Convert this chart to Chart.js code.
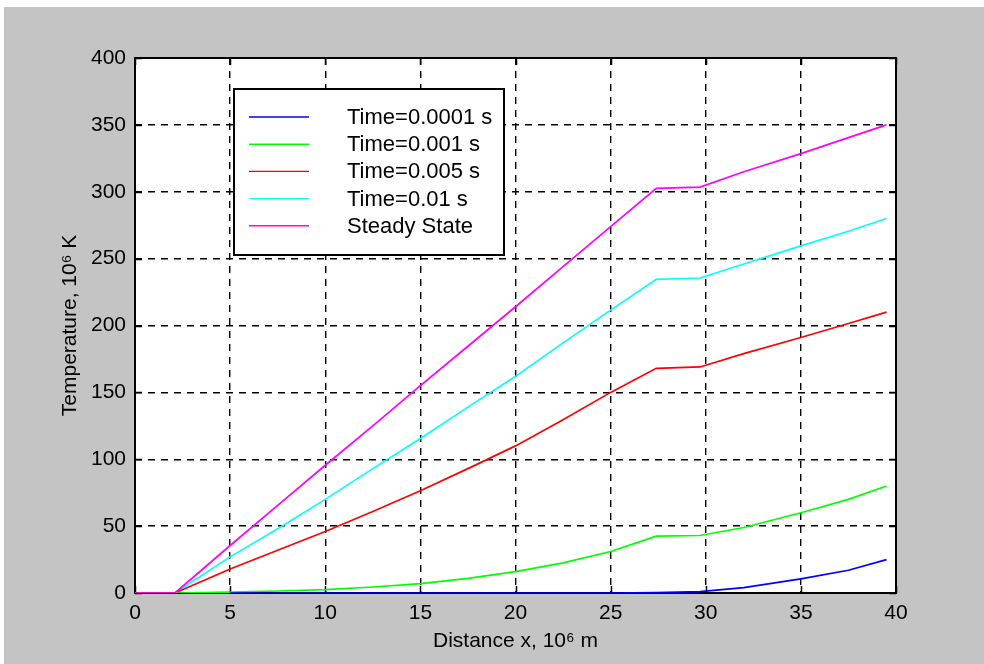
<!DOCTYPE html>
<html>
<head>
<meta charset="utf-8">
<script src="https://cdn.jsdelivr.net/npm/chart.js@4/dist/chart.umd.min.js"></script>
<style>
  html, body { margin: 0; padding: 0; background: #ffffff; }
  #bg { position: absolute; left: 4px; top: 7px; width: 980px; height: 657px; background: #c4c4c4; }
  #wrap { position: absolute; left: 0; top: 0; width: 984px; height: 664px; }
</style>
</head>
<body>
<div id="bg"></div>
<div id="wrap"><canvas id="c" width="984" height="664"></canvas></div>
<script>
// ---- data ----
const distance = [0, 2.1, 5, 7.5, 10, 12.5, 15, 17.5, 20, 22.5, 25, 27.4, 29.7, 32, 35, 37.5, 39.5];
const seriesLabels = ['Time=0.0001 s', 'Time=0.001 s', 'Time=0.005 s', 'Time=0.01 s', 'Steady State'];
const t0001 = [null, null, 0, 0, 0, 0, 0, 0, 0, 0, 0, 0.3, 1, 4, 10.5, 17, 25];
const t001  = [null, 0, 0.7, 1.5, 2.5, 4.5, 7, 11, 16, 22.5, 31, 42.5, 43, 49, 60, 70, 80];
const t005  = [0, 0, 18, 32, 46, 61, 76.5, 93, 110, 129.5, 150, 168, 169, 179, 191, 201.5, 210];
const t01   = [0, 0, 27, 48, 70, 93, 115.5, 139, 162, 187, 211.5, 234.5, 235.5, 246, 259.5, 270.5, 280];
const steady = [0, 0, 35.5, 65.5, 95.5, 125, 155, 184.5, 214, 244, 274, 302.5, 303.5, 315, 328.5, 340.5, 350];
const xTicks = [0, 5, 10, 15, 20, 25, 30, 35, 40];
const yTicks = [0, 50, 100, 150, 200, 250, 300, 350, 400];

const colors = ['#0000ff', '#00ff00', '#ff0000', '#00ffff', '#ff00ff'];
const drawOrder = [1, 2, 3, 4, 0];
const allSeries = [t0001, t001, t005, t01, steady];

const FONT = '"Liberation Sans", Arial, sans-serif';

const datasets = allSeries.map((s, i) => ({
  label: seriesLabels[i],
  data: distance.map((x, j) => ({ x: x, y: s[j] })),
  borderColor: colors[i],
  backgroundColor: colors[i],
  borderWidth: 1.7,
  pointRadius: 0,
  tension: 0,
  fill: false,
  spanGaps: false,
  order: drawOrder[i]
}));

const framePlugin = {
  id: 'frame',
  beforeDraw(chart) {
    const { ctx, chartArea: a } = chart;
    ctx.save();
    ctx.fillStyle = '#ffffff';
    ctx.fillRect(a.left, a.top, a.right - a.left, a.bottom - a.top);
    ctx.restore();
  },
  beforeDatasetsDraw(chart) {
    const { ctx, chartArea: a, scales } = chart;
    ctx.save();
    ctx.strokeStyle = '#000000';
    ctx.lineWidth = 1.5;
    ctx.beginPath();
    xTicks.forEach(v => {
      const px = Math.round(scales.x.getPixelForValue(v)) + 0.5;
      ctx.moveTo(px, a.top); ctx.lineTo(px, a.top + 7);
      ctx.moveTo(px, a.bottom); ctx.lineTo(px, a.bottom - 7);
    });
    yTicks.forEach(v => {
      const py = Math.round(scales.y.getPixelForValue(v)) + 0.5;
      ctx.moveTo(a.left, py); ctx.lineTo(a.left + 7, py);
      ctx.moveTo(a.right, py); ctx.lineTo(a.right - 7, py);
    });
    ctx.stroke();
    ctx.lineWidth = 2;
    ctx.strokeRect(a.left, a.top, a.right - a.left, a.bottom - a.top);
    ctx.restore();
  },
  afterDraw(chart) {
    const { ctx } = chart;
    ctx.save();
    // legend box
    const bx = 234, by = 89, bw = 270, bh = 166;
    ctx.fillStyle = '#ffffff';
    ctx.fillRect(bx, by, bw, bh);
    ctx.lineWidth = 2;
    ctx.strokeStyle = '#000000';
    ctx.strokeRect(bx, by, bw, bh);
    ctx.font = '22px ' + FONT;
    ctx.textBaseline = 'middle';
    ctx.textAlign = 'left';
    chart.data.datasets.forEach((ds, i) => {
      const y = 117 + i * 27.2;
      ctx.strokeStyle = ds.borderColor;
      ctx.lineWidth = 1.4;
      ctx.beginPath();
      ctx.moveTo(249, y); ctx.lineTo(309, y);
      ctx.stroke();
      ctx.fillStyle = '#000000';
      ctx.fillText(ds.label, 347, y + 1);
    });
    ctx.restore();
  }
};

new Chart(document.getElementById('c'), {
  type: 'line',
  data: { datasets: datasets },
  options: {
    responsive: false,
    animation: false,
    devicePixelRatio: 1,
    layout: { padding: { top: 58, right: 88, left: 0, bottom: 0 } },
    plugins: { legend: { display: false }, tooltip: { enabled: false } },
    scales: {
      x: {
        type: 'linear',
        min: 0, max: 40,
        afterFit(s) { s.height = 71; },
        afterBuildTicks(s) { s.ticks = xTicks.map(v => ({ value: v })); },
        ticks: { color: '#000', font: { family: FONT, size: 21 }, padding: 8, maxRotation: 0 },
        grid: { color: '#000', lineWidth: 1.4, drawTicks: false },
        border: { display: false, dash: [7, 6] },
        title: { display: true, text: 'Distance x, 10\u2076 m', color: '#000', font: { family: FONT, size: 21 }, padding: { top: 0, bottom: 10 } }
      },
      y: {
        type: 'linear',
        min: 0, max: 400,
        afterFit(s) { s.width = 135; },
        afterBuildTicks(s) { s.ticks = yTicks.map(v => ({ value: v })); },
        ticks: { color: '#000', font: { family: FONT, size: 21 }, padding: 9 },
        grid: { color: '#000', lineWidth: 1.4, drawTicks: false },
        border: { display: false, dash: [7, 6] },
        title: { display: true, text: 'Temperature, 10\u2076 K', color: '#000', font: { family: FONT, size: 21 }, padding: { top: 58, bottom: 0 } }
      }
    }
  },
  plugins: [framePlugin]
});
</script>
</body>
</html>
